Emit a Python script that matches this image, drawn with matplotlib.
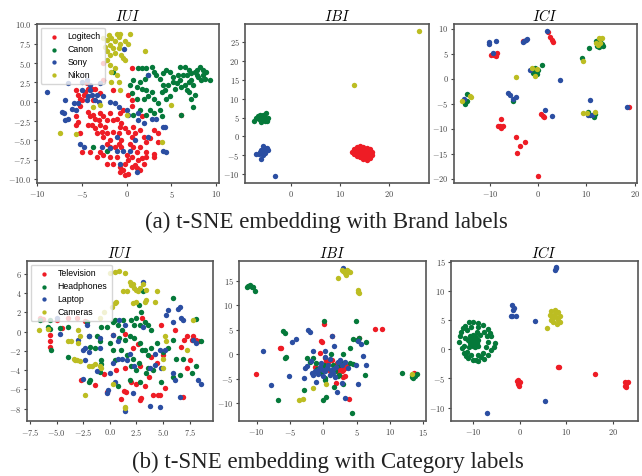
import numpy as np
import matplotlib
matplotlib.use('Agg')
import matplotlib.pyplot as plt

plt.rcParams['font.family'] = ['cmr10']
plt.rcParams['mathtext.fontset'] = 'cm'
plt.rcParams['axes.formatter.use_mathtext'] = True

RED = '#ee1c25'
GREEN = '#05793a'
BLUE = '#2b4ea2'
YELLOW = '#bcbd22'
colors = [RED, GREEN, BLUE, YELLOW]

brand_names = ['Logitech', 'Canon', 'Sony', 'Nikon']
category_names = ['Television', 'Headphones', 'Laptop', 'Cameras']

# ---- (a) IUI, brand labels ----
iui_logitech = [(-2.6,5.0),(0.6,4.3),(-5.6,1.5),(-5.4,0.9),(-5.2,0.4),(-5.0,0.2),(-4.8,0.9),(-4.6,1.3),
    (-4.3,1.7),(-3.9,1.7),(-3.7,0.2),(-5.2,-0.6),(-4.3,-1.3),(-4.1,-1.9),(-3.7,-1.7),(-3.5,-2.2),(-3.1,-2.4),
    (-3.0,-3.0),(-3.9,-3.0),(-4.3,-3.0),(-3.5,-3.4),(-3.3,-4.1),(-2.8,-3.9),(-2.4,-3.2),(-2.2,-4.1),(-2.6,-4.5),
    (-1.9,-5.0),(-1.5,-3.9),(-0.9,-4.1),(-0.7,-3.2),(-1.1,-2.2),(-0.6,-2.8),(-0.2,-3.4),(0.2,-3.9),(0.6,-4.5),
    (0.9,-4.1),(1.5,-3.7),(1.9,-4.5),(2.2,-5.2),(2.6,-4.7),(1.5,-5.8),(1.1,-6.5),(0.6,-7.1),(0.2,-7.5),
    (-0.2,-8.0),(-0.7,-8.4),(-0.7,-9.1),(-0.4,-8.8),(-0.2,-9.5),(0.2,-9.3),(0.6,-8.4),(0.9,-8.2),(1.3,-7.5),
    (1.7,-7.3),(1.9,-8.0),(2.2,-7.1),(2.2,-6.5),(0.7,-5.8),(0.0,-6.9),(-1.1,-7.1),(-1.5,-8.0),(-1.9,-7.1),
    (-2.2,-8.0),(-2.6,-6.9),(-3.0,-6.5),(-3.3,-7.1),(-4.1,-6.5),(-5.0,-6.5),(-5.6,-3.0),(-5.4,-2.6),(-5.2,-4.1),
    (-2.2,-5.4),(-1.9,-5.8),(-1.3,-5.8),(-0.9,-5.4),(-0.6,-5.0),(-1.5,-2.4),(-2.2,-2.4),(-2.6,-1.9),(-3.0,-1.5),
    (-1.9,-1.5),(-4.4,2.4),(-3.0,1.1),(-3.5,1.7),(3.5,-5.2),(6.1,-1.7),(3.0,-3.7),(1.7,-1.9),(0.6,0.2),
    (0.2,0.9),(0.6,-0.6),(-0.4,-1.1),(-0.7,-1.5),(-1.5,1.5),(-2.6,2.8),(3.5,-4.1),(-5.6,-1.9),(0.4,-5.4),
    (0.7,-3.2),(1.1,-8.6),(3.0,-7.1),(1.5,-8.8),(3.1,-6.7),(-0.6,-5.8)]
iui_canon = [(1.3,4.3),(1.7,4.3),(2.2,4.3),(2.8,4.5),(3.0,3.9),(2.4,3.5),(2.0,3.0),(1.5,2.6),(0.7,2.8),
    (0.4,2.2),(1.1,1.9),(1.7,1.7),(2.2,1.5),(2.8,1.3),(3.0,0.4),(2.4,0.7),(1.9,0.4),(1.1,0.4),(0.6,1.1),
    (3.7,3.0),(4.1,2.2),(4.3,1.5),(4.4,0.4),(4.8,0.7),(3.9,1.3),(5.2,2.6),(5.6,2.4),(5.9,2.8),(6.1,1.9),
    (6.5,2.2),(6.7,1.5),(7.0,1.3),(7.2,0.4),(7.6,0.9),(7.4,-0.7),(4.8,3.9),(5.2,3.2),(5.9,4.5),(6.5,4.5),
    (6.9,4.1),(7.2,3.7),(7.6,3.9),(7.8,3.5),(8.2,4.5),(8.5,4.1),(8.9,3.9),(9.3,2.8),(8.7,3.0),(8.3,2.8),
    (8.0,3.2),(7.2,2.8),(6.7,3.5),(6.3,3.5),(5.7,3.5),(4.1,3.7),(4.4,4.1),(3.3,3.5),(2.6,-1.1),(3.0,-1.5),
    (3.7,-1.1),(3.9,-1.9),(2.2,-1.7),(3.5,-0.2),(6.1,-1.7),(0.7,-1.7),(1.5,-1.1),(-1.5,3.8),(-2.2,-6.3),
    (-3.8,-5.9),(7.8,4.1),(8.5,3.5),(6.9,2.6),(7.4,2.2),(5.4,1.7),(4.6,2.2)]
iui_sony = [(-8.9,1.3),(-6.5,2.4),(-6.9,0.2),(-7.2,-1.3),(-7.0,-1.5),(-6.5,-2.2),(-6.1,-0.9),(-5.6,-1.1),
    (-5.4,-0.2),(-5.0,2.6),(-4.4,2.8),(-4.1,2.2),(-4.3,0.7),(-3.9,0.9),(-3.3,0.9),(-3.5,0.2),(-3.1,0.0),
    (-2.6,0.7),(-1.9,0.0),(-1.3,-0.2),(-0.9,-0.7),(0.0,-1.1),(0.2,-1.7),(-5.9,-0.2),(-5.2,-5.4),(-4.8,-5.8),
    (-2.8,-5.8),(-1.9,-6.0),(-1.1,-6.3),(-0.7,-8.0),(1.1,-9.1),(1.3,-2.4),(1.9,-2.8),(2.8,-2.2),(3.3,-2.2),
    (4.1,-3.2),(4.3,-3.2),(4.1,-6.3),(4.4,-6.5),(0.9,-5.0),(0.4,-6.3),(-0.4,-6.3),(-0.3,6.8),(2.4,3.4),
    (1.3,-1.5),(2.4,-4.5),(-1.1,-4.5),(-4.4,0.2),(-6.9,-2.4),(-5.0,1.5),(-4.1,1.5),(-3.0,2.4)]
iui_nikon = [(-2.0,8.6),(-2.2,8.0),(-1.7,8.2),(-1.1,8.8),(-0.9,8.4),(-1.3,7.8),(-1.9,7.3),(-2.4,7.1),
    (-1.5,6.9),(-0.7,7.5),(-0.2,7.8),(0.2,7.5),(-0.9,6.9),(-2.2,6.5),(-1.9,6.0),(-1.3,6.3),(-0.6,6.0),
    (-2.2,5.4),(-1.9,4.7),(-1.3,4.3),(-1.7,3.9),(-1.1,3.5),(-0.4,5.6),(-0.2,5.4),(-1.7,2.6),(-0.9,2.6),
    (0.4,8.8),(-0.7,8.8),(-2.6,8.2),(2.0,6.5),(-3.0,-0.4),(0.0,-1.7),(5.0,-0.4),(3.9,-5.2),(-7.4,-4.0),
    (-5.7,-4.2),(-0.7,1.5),(-3.7,-0.7)]

# ---- (a) IBI, brand labels ----
ibi_logitech = [(12.5,-4.0),(12.8,-3.3),(13.4,-2.8),(14.0,-2.6),(14.7,-2.9),(15.4,-3.1),(16.2,-3.3),
    (16.6,-4.0),(16.6,-4.8),(16.1,-5.7),(15.4,-6.2),(14.7,-5.9),(14.0,-5.3),(13.4,-5.1),(12.8,-4.6),
    (13.7,-4.0),(14.4,-3.7),(15.1,-4.2),(15.8,-4.6),(14.6,-4.9),(13.9,-3.3),(15.2,-5.3),(15.9,-4.0),
    (13.3,-3.7),(14.2,-4.6),(14.9,-3.5),(13.5,-4.4),(15.5,-3.7)]
ibi_canon = [(-7.7,4.2),(-6.8,5.3),(-6.5,5.7),(-5.8,5.7),(-5.1,6.2),(-4.8,4.8),(-5.5,4.0),(-6.2,3.7),
    (-6.6,4.6),(-5.8,4.8),(-7.2,4.8),(-5.0,4.0),(-5.6,5.3),(-6.3,5.1)]
ibi_sony = [(-7.2,-4.7),(-6.5,-4.2),(-6.2,-3.5),(-5.8,-2.6),(-5.5,-3.1),(-5.0,-3.1),(-4.8,-3.7),
    (-5.3,-4.4),(-5.8,-4.8),(-6.2,-5.9),(-6.0,-4.0),(-6.7,-4.6),(-5.6,-3.7),(-3.4,-10.4)]
ibi_nikon = [(26.2,27.9),(12.9,13.7)]

# ---- (a) ICI, brand labels ----
ici_logitech = [(-3.1,7.6),(-9.9,4.8),(-9.2,4.8),(-8.5,5.1),(-8.7,4.5),(2.1,9.3),(2.4,8.3),(2.8,7.7),
    (3.0,7.3),(-7.8,-8.1),(-8.0,-9.5),(-7.4,-9.4),(-8.3,-9.4),(-7.8,-9.9),(-4.7,-11.7),(-3.8,-13.5),
    (-2.8,-12.7),(-4.4,-14.9),(0.0,-19.4),(0.6,-7.1),(1.0,-7.4),(1.2,-7.7),(18.8,-5.7)]
ici_canon = [(-1.4,1.7),(-0.7,2.1),(0.0,1.8),(-0.3,1.0),(-1.0,1.1),(-0.7,1.6),(0.7,2.8),(-5.3,-4.4),
    (-14.9,-3.1),(-15.3,-5.0),(-14.9,-4.5),(10.4,-6.7),(10.8,-7.2),(11.5,-7.7),(11.8,-7.0),(9.0,4.1),
    (10.6,6.1),(12.0,7.5),(12.8,7.5),(13.2,7.0),(13.5,6.5),(12.6,6.3),(12.2,6.6)]
ici_sony = [(-10.2,7.3),(-10.2,6.9),(-8.8,7.5),(-9.4,5.1),(-3.0,7.5),(-2.6,7.8),(-2.3,8.0),(-3.1,7.3),
    (1.9,9.6),(-1.7,1.7),(4.5,-0.2),(-6.3,-2.9),(-5.9,-3.2),(-4.7,-3.7),(-5.2,-4.1),(-15.4,-4.1),
    (1.3,-6.3),(2.8,-7.5),(10.8,-4.3),(11.1,-7.2),(10.3,-7.2),(18.5,-5.7)]
ici_nikon = [(-1.2,2.1),(-0.2,1.9),(-0.7,0.6),(-4.7,0.3),(-15.8,-4.4),(-13.9,-3.7),(-14.1,-3.5),
    (9.2,-6.9),(10.1,-6.9),(11.8,-6.7),(9.2,3.6),(13.2,8.1),(12.7,8.1),(12.5,6.8),(12.8,7.1),(12.0,7.1)]

# ---- (b) IUI, category labels ----
iui_television = [(-6.25,1.3),(-5.6,-0.35),(-5.6,-1.0),(-5.6,-1.6),(-4.5,0.35),(-5.0,1.2),(-3.9,1.4),
    (-3.1,1.4),(-2.3,1.15),(-2.7,-5.0),(-1.4,-5.5),(-0.3,-6.25),(0.6,-4.0),(1.4,-0.2),(1.5,-6.25),(2.2,-1.7),
    (2.0,-5.2),(2.5,-5.4),(3.0,1.4),(2.8,-3.6),(3.3,-5.7),(2.8,-7.1),(2.9,-6.9),(4.1,-6.6),(4.7,-6.6),
    (4.5,-6.6),(4.8,0.7),(5.0,-2.4),(5.2,-5.9),(6.1,0.2),(6.7,-1.6),(7.0,-0.9),(7.3,-0.5),(7.7,-0.9),
    (7.8,-0.5),(8.1,-0.9),(8.4,-1.0),(7.5,-3.0),(7.3,-3.8),(6.9,-6.8),(1.4,-3.8),(3.9,-2.6),(-6.6,1.4),
    (0.3,-0.3),(1.0,-7.0),(1.3,-6.2),(-0.6,-4.4),(3.7,-4.7),(2.6,-1.3),(4.4,-3.3)]
iui_headphones = [(-6.6,1.2),(-5.6,1.2),(-5.8,0.5),(-5.6,0.3),(-5.5,-1.9),(-4.7,0.35),(-3.9,0.5),
    (-2.2,1.0),(-1.9,-5.0),(-1.25,-0.5),(-0.8,0.5),(-0.3,0.45),(0.3,1.0),(0.5,1.2),(0.8,0.7),(1.1,0.2),
    (1.25,1.2),(2.0,1.2),(2.3,0.7),(2.5,1.4),(2.97,2.0),(2.8,0.7),(3.3,1.0),(3.6,0.7),(3.9,0.2),(3.1,4.2),
    (2.7,2.8),(-2.0,-0.5),(-1.9,-1.6),(-1.4,-1.7),(-0.9,-1.0),(0.0,-1.2),(0.3,-1.9),(0.9,-0.7),(1.4,-0.9),
    (1.9,-0.5),(2.3,-0.7),(2.8,-1.2),(3.0,-1.9),(3.3,-1.9),(3.6,-2.4),(3.9,-1.7),(4.4,-1.2),(5.0,-2.1),
    (5.5,-1.7),(5.9,-0.9),(6.25,-2.8),(6.9,-2.8),(6.6,-4.5),(5.9,-4.7),(7.7,-4.3),(8.1,-3.6),(8.6,-1.0),
    (8.1,1.3),(5.9,3.5),(-0.8,-2.95),(-0.9,-4.2),(0.8,-5.7),(1.9,-5.0),(2.8,-5.2),(3.4,-4.3),(3.6,-3.8),
    (4.1,-4.0),(2.7,-3.3),(2.2,-2.8),(1.6,-2.4),(0.5,-2.95),(2.0,-3.6),(2.5,-4.0),(-0.8,-3.4),(-3.9,-2.6),
    (-2.0,-5.2),(1.0,-1.9),(4.8,-5.2)]
iui_laptop = [(-4.7,-0.2),(-2.2,0.7),(-2.0,-0.5),(-2.3,-1.7),(-2.5,-1.9),(-2.0,-2.1),(-2.3,-2.9),
    (-1.25,-4.1),(-2.5,-4.9),(-0.3,-6.4),(-0.2,-6.1),(0.8,-1.0),(0.9,1.2),(1.4,0.7),(0.3,-0.35),(-0.9,-1.7),
    (0.0,-4.3),(0.3,-3.3),(0.8,-2.8),(1.1,-2.8),(1.6,-2.95),(1.9,-2.3),(2.3,-3.6),(2.2,-6.4),(1.4,-8.3),
    (3.1,5.2),(3.1,0.5),(3.75,-3.8),(4.2,-2.3),(4.7,-1.9),(4.7,-7.8),(3.75,-7.7),(5.2,-1.9),(5.3,1.7),
    (5.5,2.3),(5.9,1.0),(6.4,2.4),(6.6,2.6),(6.7,1.4),(6.9,1.2),(7.8,-0.9),(8.1,-1.2),(8.3,-5.0),(8.6,-5.4),
    (5.9,-4.3),(6.1,-5.0),(6.6,-6.8),(4.2,-3.5),(0.5,-5.2),(4.8,-3.8),(-0.9,-0.7),(-5.0,1.4),(-3.0,-0.9)]
iui_cameras = [(0.0,6.1),(0.5,6.25),(0.9,6.3),(1.4,6.1),(1.9,5.2),(2.0,4.9),(2.2,5.0),(2.3,4.5),(2.5,4.3),
    (2.8,4.5),(2.6,4.2),(1.6,4.2),(1.25,4.2),(0.6,3.1),(0.5,3.0),(0.2,2.6),(-0.6,2.1),(-0.9,1.4),(3.4,4.3),
    (3.1,5.0),(3.4,3.3),(3.3,3.1),(2.5,3.1),(4.4,4.2),(4.2,3.1),(2.2,3.0),(-3.0,0.2),(-2.8,-0.5),(-3.9,-1.0),
    (-3.7,-1.0),(-3.0,-1.2),(-3.4,-2.8),(-3.1,-2.95),(-2.8,-3.1),(-3.25,-2.9),(-2.0,-3.6),(-1.7,-3.6),
    (-1.4,-3.4),(-0.9,-3.6),(-0.8,-3.8),(-5.8,0.3),(-6.7,0.2),(-2.3,-6.6),(0.3,-5.4),(1.4,-7.8),(1.4,-7.9),
    (5.2,-0.5),(5.3,-1.0),(5.0,-2.8),(5.0,-3.8),(7.3,-1.9),(7.8,1.2)]

# ---- (b) IBI, category labels ----
ibi_television = [(0.1,6.1),(7.75,5.2),(8.75,5.2),(1.25,3.7),(-6.5,1.2),(-6.4,1.3),(5.35,3.3),(-0.25,2.4),
    (-10.1,-4.1),(13.6,-3.75),(3.9,-9.2),(1.9,-5.8),(-0.35,2.6),(-0.5,0.2),(0.25,-0.8),(0.4,-1.3),
    (0.75,-1.5),(1.25,-1.2),(2.0,-1.8),(2.5,-2.9),(2.75,-3.5),(3.0,-3.2),(2.9,-4.6),(3.25,-2.9),(2.0,-3.5),
    (-1.25,-2.5),(1.0,-3.5),(3.25,-4.4),(3.5,-2.4)]
ibi_headphones = [(-11.25,13.95),(-11.0,14.1),(-10.75,13.8),(-10.5,13.7),(-11.4,13.7),(-10.25,12.8),
    (0.1,6.7),(4.85,6.8),(-6.1,4.8),(-5.75,4.4),(-5.6,-0.6),(-5.75,-0.8),(4.5,3.1),(5.0,2.9),(5.4,3.3),
    (6.35,2.4),(4.0,1.2),(6.25,-4.2),(-6.85,-9.3),(0.0,-9.3),(0.4,-8.8),(4.25,-12.0),(11.75,-3.9),
    (13.25,-4.3),(13.75,-4.5),(14.0,-4.0),(13.5,-4.9),(13.25,-4.6),(-2.85,-7.3),(0.25,-5.2),(1.65,-6.6),
    (3.0,-6.05),(4.0,-1.8),(4.5,-2.0),(-2.0,-1.5),(-1.5,-0.8),(-1.1,-1.8),(-0.25,-2.2),(0.1,-2.85),
    (0.6,-2.5),(1.5,-2.2),(2.4,-2.2),(2.9,-1.8),(0.25,-4.8),(2.4,-4.2),(2.9,0.05),(-2.5,-0.8),(-1.0,-3.1),
    (2.15,-4.4),(1.15,0.05),(1.75,-3.5),(-0.35,-3.9),(0.1,-2.2)]
ibi_laptop = [(2.9,17.55),(-2.35,5.0),(-2.0,4.6),(1.3,3.7),(-4.1,3.1),(-4.75,2.4),(-9.0,0.7),(5.25,2.6),
    (5.6,2.0),(1.65,1.7),(-1.6,0.7),(6.0,-0.3),(6.4,-2.2),(5.15,-6.1),(-7.85,-6.3),(-5.15,-4.35),
    (3.25,-8.85),(2.1,-7.6),(2.85,-5.9),(4.85,-2.2),(-2.75,-2.9),(-2.5,-2.4),(-2.85,-4.9),(-1.85,-1.35),
    (-1.75,-3.75),(-1.5,-4.2),(-1.25,-3.5),(-1.1,-5.6),(-0.5,-2.5),(-0.1,-3.2),(0.25,-3.5),(0.5,-2.7),
    (0.75,-2.2),(1.1,-3.2),(1.4,-3.9),(1.5,-3.1),(1.9,-2.5),(2.25,-1.5),(2.5,-1.2),(2.75,-2.2),(1.75,-4.6),
    (1.0,-4.2),(0.0,-4.4),(-0.75,-4.0),(-0.4,-1.7),(-0.75,-3.2),(0.25,-0.5),(1.0,-1.0),(0.25,0.7),
    (3.25,-1.5),(3.65,-2.9)]
ibi_cameras = [(2.75,17.2),(3.0,16.9),(3.25,16.5),(3.5,17.1),(3.75,16.9),(4.0,16.7),(3.4,16.2),
    (2.25,15.6),(5.25,13.1),(5.35,12.4),(5.15,12.7),(-3.6,-9.3),(-3.0,-9.1),(13.25,-4.0),(-1.6,-6.9),
    (0.4,-6.1)]

# ---- (b) ICI, category labels ----
ici_television = [(-0.5,-5.9),(-0.7,-5.5),(-0.1,-6.3),(0.0,-5.7),(-0.4,-5.3),(8.4,-3.1),(8.2,-3.0),
    (16.1,-4.3),(22.9,-6.0),(22.5,-5.7),(23.2,-5.7),(22.9,-6.4),(22.5,-6.3)]
ici_headphones = [(-13.0,1.3),(-12.7,3.0),(-11.8,4.0),(-10.9,4.6),(-10.0,4.7),(-8.9,4.5),(-7.9,4.2),
    (-6.8,3.4),(-6.1,2.2),(-5.4,1.0),(-6.1,-0.1),(-6.8,-1.0),(-7.7,-1.7),(-8.9,-2.1),(-10.0,-1.8),
    (-11.1,-1.5),(-12.1,-0.7),(-12.5,0.2),(-11.4,3.3),(-10.4,3.8),(-8.9,3.8),(-7.7,3.0),(-7.1,2.2),
    (-6.8,1.3),(-7.3,0.3),(-8.0,-0.6),(-9.1,-1.0),(-10.4,-1.0),(-11.4,-0.4),(-12.0,0.5),(-11.8,1.9),
    (-10.7,2.2),(-10.0,2.5),(-9.4,1.9),(-10.4,1.6),(-9.9,1.3),(-9.3,1.0),(-10.7,1.0),(-10.1,0.6),
    (-9.6,0.3),(-8.9,1.6),(-11.1,1.6),(-10.1,1.9),(-9.6,2.2),(-8.6,2.5),(-12.9,2.2),(-12.3,3.6),
    (-6.4,2.8),(-5.6,0.3),(-9.5,-1.8),(-11.6,-1.1),(-8.3,-1.3),(-9.2,3.0),(-10.9,0.3),(-9.0,0.5)]
ici_laptop = [(7.7,13.9),(7.5,13.5),(7.85,14.05),(-1.6,7.6),(-1.4,6.7),(-1.3,7.0),(-2.0,5.7),(-1.6,5.7),
    (-0.9,5.7),(3.2,4.9),(5.4,-8.9),(-7.1,-11.0)]
ici_cameras = [(5.9,3.7),(6.4,5.9),(6.8,6.5),(7.5,6.7),(8.2,6.3),(8.7,5.7),(8.6,4.7),(7.9,4.3),(7.1,4.6),
    (6.6,5.0),(7.1,5.6),(7.9,5.3),(7.5,6.0),(8.2,5.0),(6.9,5.2)]

panels = [
    ('$IUI$', [iui_logitech, iui_canon, iui_sony, iui_nikon], brand_names,
     (-10, 10.3), (-10.5, 10.05), np.arange(-10, 11, 5), np.arange(-10, 10.1, 2.5)),
    ('$IBI$', [ibi_logitech, ibi_canon, ibi_sony, ibi_nikon], None,
     (-9.5, 28.2), (-12.3, 29.7), [0, 10, 20], np.arange(-10, 26, 5)),
    ('$ICI$', [ici_logitech, ici_canon, ici_sony, ici_nikon], None,
     (-17.5, 20.5), (-20.9, 10.9), [-10, 0, 10, 20], np.arange(-20, 11, 5)),
    ('$IUI$', [iui_television, iui_headphones, iui_laptop, iui_cameras], category_names,
     (-7.8, 9.7), (-9.3, 7.36), np.arange(-7.5, 7.6, 2.5), np.arange(-8, 7, 2)),
    ('$IBI$', [ibi_television, ibi_headphones, ibi_laptop, ibi_cameras], None,
     (-12.65, 15.4), (-13.6, 19.0), np.arange(-10, 16, 5), np.arange(-10, 16, 5)),
    ('$ICI$', [ici_television, ici_headphones, ici_laptop, ici_cameras], None,
     (-14.8, 25.4), (-12.3, 15.1), [-10, 0, 10, 20], np.arange(-10, 16, 5)),
]

W, H = 642, 476
# axes boxes in pixels: left, top, right, bottom
boxes = [(37, 24, 219, 183), (245, 24, 429, 183), (454, 24, 637, 183),
         (27, 261, 213, 421), (239, 261, 426, 421), (451, 261, 638, 421)]

fig = plt.figure(figsize=(W / 100, H / 100), dpi=100)

for (title, groups, names, xl, yl, xt, yt), (l, t, r, b) in zip(panels, boxes):
    ax = fig.add_axes([l / W, 1 - b / H, (r - l) / W, (b - t) / H])
    for i, pts in enumerate(groups):
        pts = np.array(pts)
        ax.scatter(pts[:, 0], pts[:, 1], s=15, color=colors[i], linewidths=0,
                   label=names[i] if names else None)
    ax.set_xlim(xl)
    ax.set_ylim(yl)
    ax.set_xticks(xt)
    ax.set_yticks(yt)
    ax.set_title(title, fontsize=10.5, pad=2)
    ax.tick_params(labelsize=6, length=2.5, width=0.8, pad=1.5, colors='#444444')
    for sp in ax.spines.values():
        sp.set_color('#555555')
        sp.set_linewidth(1.2)
    if names:
        ax.legend(loc='upper left', prop={'family': 'Liberation Sans', 'size': 6.3},
                  handletextpad=0.6, labelspacing=0.45, borderpad=0.5, borderaxespad=0.4,
                  markerscale=0.8)

cap = dict(ha='center', va='baseline', fontsize=16.5, family='Liberation Serif', color='#222222')
fig.text(326.5 / W, 1 - 228 / H, '(a) t-SNE embedding with Brand labels', **cap)
fig.text(327.5 / W, 1 - 468 / H, '(b) t-SNE embedding with Category labels', **cap)

fig.savefig('out.png', dpi=100)
